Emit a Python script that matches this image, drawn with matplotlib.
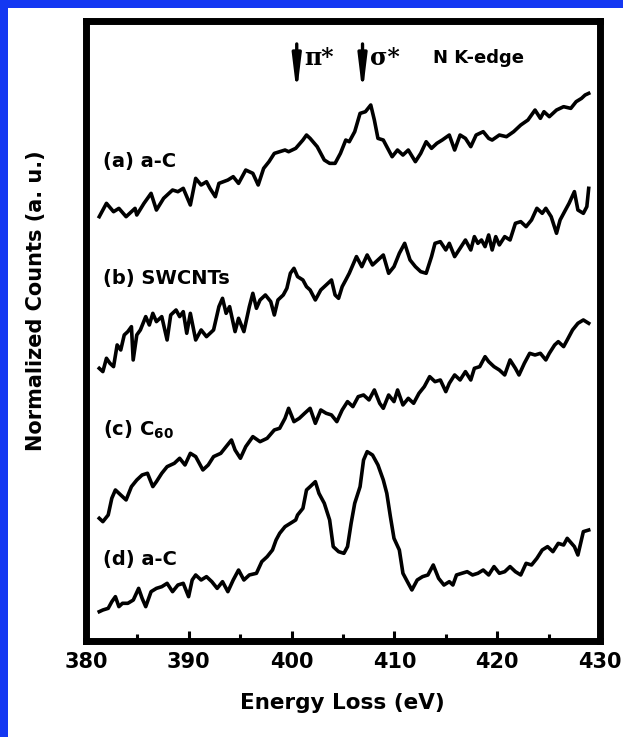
import matplotlib
matplotlib.use("Agg")
import matplotlib.pyplot as plt
from matplotlib.patches import Rectangle
from matplotlib.ticker import MultipleLocator

# N K-edge EELS spectra, energy loss (eV) vs normalized counts (offset, a.u.)
ev_a = [381.29, 381.99, 382.68, 383.2, 383.9, 384.77, 384.94, 385.64, 386.33, 386.85,
        387.55, 388.42, 388.94, 389.46, 390.15, 390.67, 391.2, 391.72, 392.06, 392.58,
        392.93, 393.8, 394.32, 394.84, 395.54, 396.23, 396.75, 397.28, 397.8, 398.32,
        398.84, 399.36, 399.71, 400.4, 401.1, 401.45, 401.8, 402.49, 403.18, 403.7,
        404.23, 404.75, 405.27, 405.61, 406.14, 406.66, 407.18, 407.7, 408.05, 408.4,
        408.92, 409.26, 409.78, 410.3, 410.83, 411.35, 412.04, 412.56, 413.09, 413.61,
        414.13, 414.65, 415.34, 415.86, 416.39, 416.91, 417.43, 417.95, 418.64, 419.17,
        419.51, 420.21, 420.9, 421.6, 422.29, 422.99, 423.68, 424.2, 424.55, 425.07,
        425.77, 426.46, 427.16, 427.68, 428.2, 428.55, 428.9]
counts_a = [68.44, 70.59, 69.24, 69.78, 68.44, 69.78, 68.71, 70.59, 72.2, 69.51,
            71.4, 72.74, 72.47, 73.01, 70.32, 74.62, 73.55, 74.08, 73.01, 71.66,
            73.81, 74.35, 74.89, 73.81, 75.96, 75.43, 73.55, 76.23, 77.31, 78.65,
            78.92, 79.19, 78.92, 79.46, 80.8, 81.61, 81.07, 79.73, 77.58, 77.04,
            77.04, 78.65, 80.8, 80.53, 82.15, 85.1, 85.37, 86.45, 84.03, 81.07,
            80.8, 79.73, 78.11, 79.19, 78.38, 79.19, 77.31, 78.65, 80.53, 79.46,
            80.27, 80.8, 81.61, 79.19, 81.61, 81.07, 79.73, 81.61, 82.15, 81.07,
            80.8, 81.61, 81.34, 82.15, 83.22, 84.03, 85.64, 84.3, 85.37, 84.57,
            85.64, 86.18, 85.91, 86.99, 87.52, 88.06, 88.33]

ev_b = [381.29, 381.64, 381.99, 382.33, 382.68, 383.03, 383.38, 383.72, 384.07, 384.42,
        384.59, 384.94, 385.29, 385.81, 386.16, 386.5, 386.85, 387.37, 387.89, 388.24,
        388.76, 389.11, 389.46, 389.8, 390.15, 390.67, 391.2, 391.72, 392.41, 392.93,
        393.28, 393.63, 393.97, 394.5, 394.84, 395.36, 395.89, 396.23, 396.58, 396.93,
        397.45, 397.97, 398.32, 398.67, 399.19, 399.54, 399.88, 400.23, 400.58, 401.1,
        401.45, 401.8, 402.31, 402.84, 403.36, 403.88, 404.23, 404.57, 404.92, 405.27,
        405.61, 406.31, 406.83, 407.35, 407.87, 408.4, 408.92, 409.44, 409.96, 410.48,
        411.0, 411.52, 412.04, 412.56, 413.09, 413.61, 413.95, 414.47, 415.0, 415.34,
        415.86, 416.39, 416.91, 417.43, 417.78, 418.12, 418.47, 418.82, 419.17, 419.51,
        419.86, 420.21, 420.73, 421.25, 421.77, 422.29, 422.81, 423.34, 423.86, 424.38,
        424.73, 425.25, 425.77, 426.12, 426.64, 426.99, 427.51, 427.85, 428.38, 428.72,
        428.9]
counts_b = [43.98, 43.45, 45.6, 44.79, 44.25, 47.75, 46.94, 49.36, 49.9, 50.7,
            45.33, 49.36, 50.17, 52.32, 50.97, 52.85, 51.51, 52.32, 48.55, 52.58,
            53.39, 52.32, 53.12, 49.63, 52.85, 48.55, 50.17, 49.09, 50.17, 53.93,
            55.27, 52.85, 53.93, 49.9, 52.05, 49.9, 53.93, 56.08, 53.66, 55.0,
            55.81, 54.74, 52.58, 55.0, 55.81, 56.89, 59.31, 60.11, 58.77, 58.23,
            57.15, 56.62, 55.0, 56.62, 57.42, 58.23, 55.81, 55.27, 57.15, 58.23,
            59.31, 62.0, 60.38, 62.26, 60.65, 61.46, 62.26, 59.31, 60.38, 62.53,
            64.14, 61.46, 60.38, 59.57, 59.31, 62.0, 64.14, 64.41, 63.07, 64.14,
            62.0, 63.34, 64.68, 63.07, 65.22, 64.14, 64.68, 63.61, 65.49, 63.07,
            65.22, 63.88, 65.22, 64.68, 67.37, 67.64, 66.83, 67.91, 69.79, 68.98,
            69.79, 68.44, 65.76, 67.91, 69.52, 70.59, 72.48, 69.52, 68.98, 70.06,
            73.01]

ev_c = [381.29, 381.64, 382.16, 382.51, 382.86, 383.38, 383.9, 384.42, 384.94, 385.46,
        385.98, 386.5, 386.85, 387.37, 387.89, 388.59, 389.11, 389.63, 390.15, 390.67,
        391.37, 391.89, 392.41, 393.11, 393.63, 394.15, 394.5, 395.02, 395.54, 396.23,
        396.93, 397.62, 398.32, 398.84, 399.36, 399.71, 400.23, 400.75, 401.27, 401.8,
        402.31, 402.84, 403.36, 403.88, 404.4, 404.92, 405.44, 405.96, 406.48, 407.0,
        407.53, 408.05, 408.57, 408.92, 409.44, 409.96, 410.31, 410.83, 411.35, 411.87,
        412.39, 412.91, 413.43, 413.95, 414.47, 415.0, 415.34, 415.86, 416.39, 416.91,
        417.43, 417.78, 418.3, 418.82, 419.17, 419.69, 420.21, 420.73, 421.25, 421.77,
        422.12, 422.64, 423.16, 423.68, 424.2, 424.73, 425.07, 425.59, 425.94, 426.46,
        426.81, 427.33, 427.85, 428.38, 428.9]
counts_c = [19.79, 19.25, 20.33, 23.02, 24.36, 23.55, 22.75, 24.9, 25.97, 26.78,
            27.05, 24.9, 25.7, 27.05, 28.12, 28.66, 29.47, 28.39, 30.27, 29.74,
            27.59, 28.39, 29.74, 30.27, 31.35, 32.42, 30.81, 29.47, 31.35, 32.96,
            32.15, 32.69, 34.04, 34.31, 35.92, 37.53, 35.38, 35.92, 36.73, 37.53,
            35.11, 37.26, 36.73, 36.46, 35.38, 37.26, 38.61, 37.8, 39.41, 39.68,
            38.88, 40.49, 38.34, 37.53, 39.68, 38.61, 40.49, 38.07, 39.14, 38.34,
            39.95, 41.03, 42.64, 41.83, 42.1, 40.22, 41.56, 42.91, 42.1, 43.45,
            42.1, 43.98, 44.25, 45.86, 45.06, 44.25, 43.71, 42.91, 45.33, 43.98,
            42.91, 44.79, 46.4, 46.13, 46.4, 45.33, 46.4, 47.75, 48.28, 47.48,
            48.55, 50.17, 51.24, 51.78, 51.24]

ev_d = [381.29, 381.64, 382.16, 382.51, 382.86, 383.2, 383.55, 384.07, 384.6, 385.12,
        385.46, 385.81, 386.33, 386.85, 387.37, 387.89, 388.42, 388.94, 389.46, 389.98,
        390.33, 390.67, 391.2, 391.72, 392.24, 392.76, 393.28, 393.8, 394.32, 394.84,
        395.36, 395.89, 396.58, 397.1, 397.62, 398.14, 398.49, 398.84, 399.36, 399.88,
        400.4, 400.58, 401.1, 401.45, 401.8, 402.31, 402.66, 403.18, 403.7, 404.05,
        404.57, 405.09, 405.44, 405.79, 406.14, 406.66, 407.0, 407.35, 407.87, 408.4,
        408.92, 409.26, 409.61, 409.96, 410.48, 410.83, 411.35, 411.7, 412.22, 412.74,
        413.26, 413.78, 414.3, 414.82, 415.34, 415.69, 416.04, 416.56, 417.08, 417.6,
        418.12, 418.64, 419.17, 419.69, 420.21, 420.73, 421.25, 421.77, 422.29, 422.81,
        423.34, 423.86, 424.38, 424.9, 425.42, 425.94, 426.46, 426.81, 427.51, 427.85,
        428.38, 428.9]
counts_d = [4.73, 5.0, 5.27, 6.34, 7.15, 5.54, 6.08, 6.08, 6.61, 8.49,
            6.88, 5.54, 7.96, 8.49, 8.76, 9.3, 7.96, 9.03, 9.3, 7.15,
            9.84, 10.65, 9.84, 10.38, 9.57, 8.49, 9.57, 7.96, 9.84, 11.45,
            9.84, 10.65, 10.92, 12.8, 13.6, 14.68, 16.29, 17.37, 18.44, 18.98,
            19.52, 20.32, 21.4, 24.36, 24.89, 25.7, 23.82, 22.21, 19.52, 15.22,
            14.41, 14.14, 15.22, 18.98, 22.21, 24.89, 29.19, 30.54, 30.0, 28.39,
            25.97, 23.82, 20.06, 16.56, 14.68, 10.92, 9.3, 8.23, 9.84, 10.38,
            10.65, 12.26, 10.11, 9.03, 9.57, 9.03, 10.65, 10.92, 11.18, 10.65,
            10.92, 11.45, 10.65, 12.0, 10.92, 11.18, 12.0, 11.18, 10.65, 12.53,
            12.26, 13.33, 14.68, 15.22, 14.41, 15.75, 15.48, 16.56, 15.22, 13.87,
            17.64, 17.9]

labels = ["(a) a-C", "(b) SWCNTs", r"(c) C$_{\mathbf{60}}$", "(d) a-C"]
label_y = [77.4, 58.5, 34.0, 13.1]
peak_ev = [400.5, 406.9]
peak_names = ["\u03c0*", "\u03c3*"]

plt.rcParams['font.family'] = ['DejaVu Sans']
plt.rcParams['font.weight'] = 'bold'
plt.rcParams['mathtext.fontset'] = 'dejavusans'

fig = plt.figure(figsize=(6.23, 7.37), dpi=100)
fig.patch.set_facecolor('#1438f2')
# white slide area
fig.patches.append(Rectangle((8 / 623, 0), 1, (737 - 8) / 737, transform=fig.transFigure,
                             facecolor='white', edgecolor='none', zorder=0))

ax = fig.add_axes([86 / 623, 96 / 737, 514 / 623, 620 / 737])
ax.set_zorder(2)
ax.patch.set_alpha(0)
for ev, c in zip([ev_a, ev_b, ev_c, ev_d], [counts_a, counts_b, counts_c, counts_d]):
    ax.plot(ev, c, color='black', lw=2.6, solid_joinstyle='round')

for lab, y in zip(labels, label_y):
    ax.text(381.65, y, lab, fontsize=14, fontweight='bold', ha='left', va='center')

# arrows marking the pi* and sigma* resonances
for x, name in zip(peak_ev, peak_names):
    ax.annotate('', xy=(x, 88.3), xytext=(x, 96.3),
                arrowprops=dict(arrowstyle='-|>,head_width=0.14,head_length=1.15',
                                mutation_scale=18, lw=2.4, color='black',
                                shrinkA=0, shrinkB=0))
    ax.text(x + 0.75, 94.0, name, fontsize=17, family='DejaVu Serif',
            fontweight='bold', ha='left', va='center')
ax.text(413.8, 94.0, "N K-edge", fontsize=13, fontweight='bold', ha='left', va='center')

ax.set_xlim(380, 430)
ax.set_ylim(0, 100)
ax.xaxis.set_major_locator(MultipleLocator(10))
ax.xaxis.set_minor_locator(MultipleLocator(5))
ax.tick_params(axis='x', which='major', direction='in', length=7, width=2.2,
               labelsize=15, pad=8)
ax.tick_params(axis='x', which='minor', direction='in', length=5, width=2.2)
ax.set_yticks([])
for s in ax.spines.values():
    s.set_linewidth(5)

fig.text(342 / 623, 1 - 703 / 737, "Energy Loss (eV)", fontsize=15.5, fontweight='bold',
         ha='center', va='center')
fig.text(36 / 623, 1 - 301 / 737, "Normalized Counts (a. u.)", fontsize=15,
         fontweight='bold', rotation=90, ha='center', va='center')

fig.savefig('out.png', dpi=100, facecolor=fig.get_facecolor())
